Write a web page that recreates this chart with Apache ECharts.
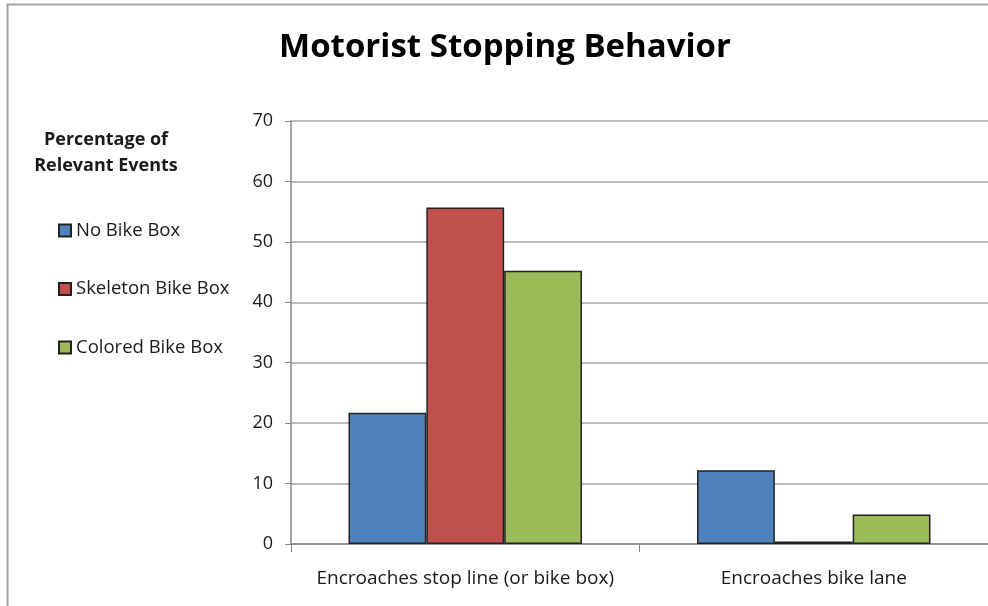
<!DOCTYPE html>
<html><head><meta charset="utf-8">
<script src="https://cdn.jsdelivr.net/npm/echarts@6/dist/echarts.min.js"></script>
<style>html,body{margin:0;padding:0;background:#fff}#c{width:988px;height:606px}</style>
</head><body><div id="c"></div>
<script>
const categories = ['Encroaches stop line (or bike box)', 'Encroaches bike lane'];
const seriesNames = ['No Bike Box', 'Skeleton Bike Box', 'Colored Bike Box'];
const noBikeBox = [21.7, 12.2];
const skeletonBikeBox = [55.7, 0.4];
const coloredBikeBox = [45.2, 4.9];
const colors = ['#4F81BD', '#C0504D', '#9BBB59'];
const FONT = 'Open Sans';

const chart = echarts.init(document.getElementById('c'));
const values = [noBikeBox, skeletonBikeBox, coloredBikeBox];
chart.setOption({
  animation: false,
  textStyle: { fontFamily: FONT },
  title: {
    text: 'Motorist Stopping Behavior', left: 500, top: 26, textAlign: 'center',
    textStyle: { fontFamily: FONT, fontSize: 33, fontWeight: 'bold', color: '#000' }
  },
  graphic: [
    { type: 'rect', shape: { x: 7.5, y: 4.5, width: 1100, height: 700 },
      style: { fill: 'none', stroke: '#A6A6A6', lineWidth: 2 }, silent: true },
    { type: 'text', x: 106, y: 127, style: { text: 'Percentage of\nRelevant Events', align: 'center',
      verticalAlign: 'top', font: 'bold 18px "' + FONT + '"', fill: '#1a1a1a', lineHeight: 26 } }
  ],
  legend: {
    orient: 'vertical', left: 53, top: 216, itemGap: 39.5, itemWidth: 12, itemHeight: 12,
    icon: 'rect', data: seriesNames,
    textStyle: { fontFamily: FONT, fontSize: 18.5, color: '#1a1a1a' }
  },
  grid: { left: 291, top: 121, right: -3, bottom: 62, containLabel: false },
  xAxis: {
    type: 'category', data: categories,
    axisLine: { lineStyle: { color: '#868686', width: 1.5 } },
    axisTick: { show: true, interval: 0, length: 8, lineStyle: { color: '#868686', width: 1 } },
    axisLabel: { interval: 0, color: '#1a1a1a', fontSize: 19, margin: 25, fontFamily: FONT }
  },
  yAxis: {
    type: 'value', min: 0, max: 70, interval: 10,
    axisLine: { show: true, lineStyle: { color: '#868686', width: 1.5 } },
    axisTick: { show: true, length: 6, lineStyle: { color: '#868686' } },
    splitLine: { lineStyle: { color: '#A6A6A6', width: 1.5 } },
    axisLabel: { color: '#1a1a1a', fontSize: 18, margin: 18, fontFamily: FONT }
  },
  series: values.map((v, i) => ({
    name: seriesNames[i], type: 'bar', data: v, barGap: '0%', barCategoryGap: '33%',
    itemStyle: { color: colors[i], borderColor: '#222', borderWidth: 1.5 }
  }))
});
</script></body></html>
